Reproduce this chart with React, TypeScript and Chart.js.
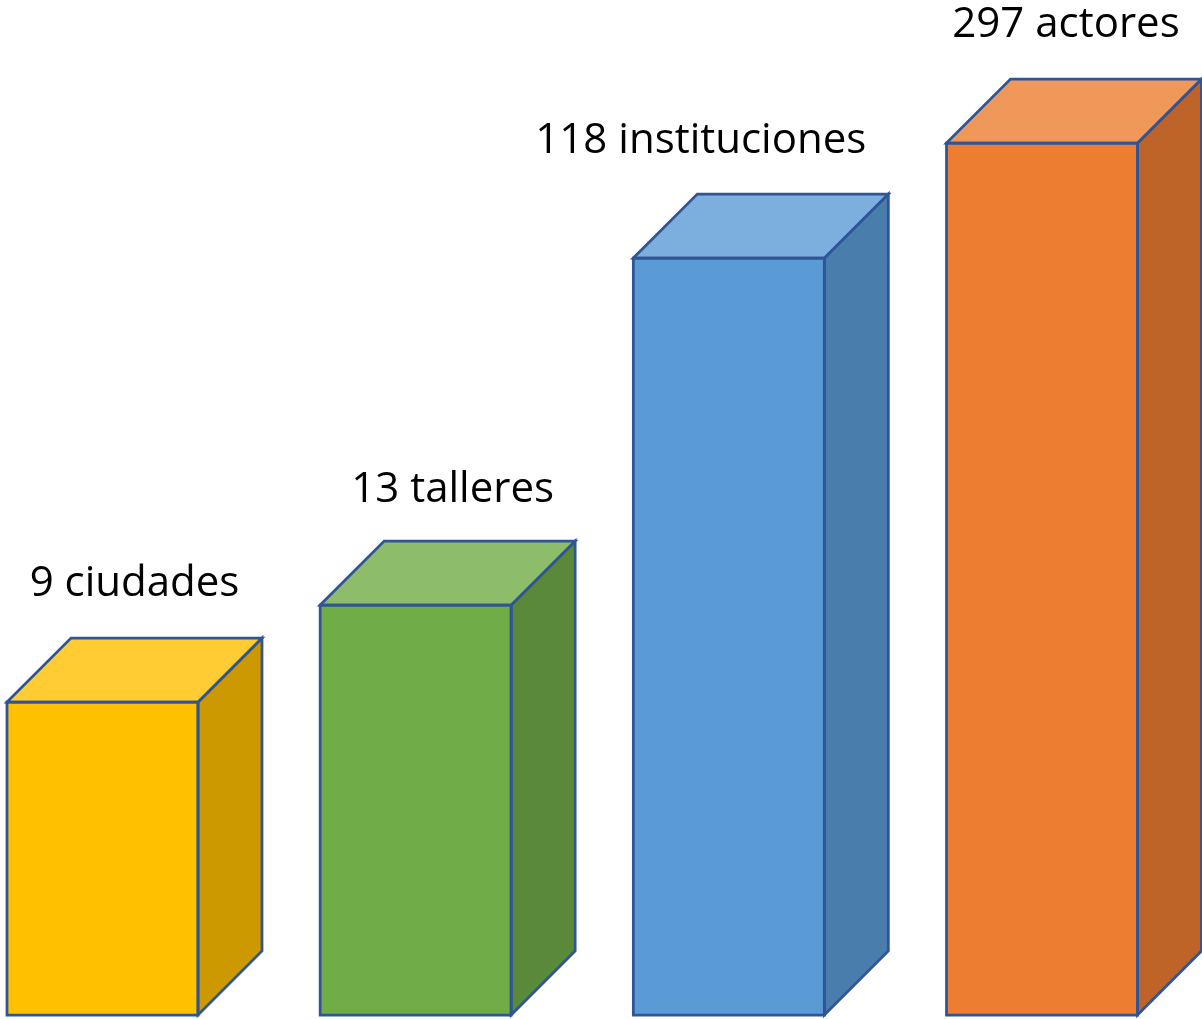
import React, { useEffect, useRef } from "react";
import { Chart, registerables } from "chart.js";

Chart.register(...registerables);

// Data
const categories = ["ciudades", "talleres", "instituciones", "actores"];
const counts = [9, 13, 118, 297];
// Visual bar heights (the picture's bars are not proportional to counts)
const barHeights = [313, 410, 757, 872];
const labelTexts = ["9 ciudades", "13 talleres", "118 instituciones", "297 actores"];

const frontColors = ["#FFC000", "#70AD47", "#5B9BD5", "#ED7D31"];
const topColors = ["#FFCD33", "#8DBD6B", "#7CAFDD", "#F0975A"];
const sideColors = ["#CC9A00", "#5A8A39", "#497DAB", "#BE6428"];
const edgeColor = "#2F5597";
const depth = 64;
const labelDx = [0, 5, -60, -8];
const labelDy = [-42, -39, -41, -42];

const cubePlugin = {
  id: "cube3d",
  afterDatasetsDraw(chart: any) {
    const ctx = chart.ctx;
    const meta = chart.getDatasetMeta(0);
    meta.data.forEach((bar: any, i: number) => {
      const { x, y, base, width } = bar.getProps(["x", "y", "base", "width"], true);
      const l = x - width / 2;
      const r = x + width / 2;
      const t = y;
      const b = base;
      ctx.save();
      ctx.lineWidth = 2.75;
      ctx.strokeStyle = edgeColor;
      ctx.lineJoin = "miter";
      // side
      ctx.beginPath();
      ctx.moveTo(r, t);
      ctx.lineTo(r + depth, t - depth);
      ctx.lineTo(r + depth, b - depth);
      ctx.lineTo(r, b);
      ctx.closePath();
      ctx.fillStyle = sideColors[i];
      ctx.fill();
      ctx.stroke();
      // top
      ctx.beginPath();
      ctx.moveTo(l, t);
      ctx.lineTo(l + depth, t - depth);
      ctx.lineTo(r + depth, t - depth);
      ctx.lineTo(r, t);
      ctx.closePath();
      ctx.fillStyle = topColors[i];
      ctx.fill();
      ctx.stroke();
      // front outline
      ctx.beginPath();
      ctx.rect(l, t, width, b - t);
      ctx.stroke();
      // label
      ctx.fillStyle = "#000000";
      ctx.font = "42px 'Open Sans'";
      ctx.textAlign = "center";
      ctx.textBaseline = "alphabetic";
      ctx.fillText(labelTexts[i], x + depth / 2 + labelDx[i], t - depth + labelDy[i]);
      ctx.restore();
    });
  },
};

export default function App() {
  const ref = useRef<HTMLCanvasElement>(null);
  useEffect(() => {
    document.body.style.margin = "0";
    const chart = new Chart(ref.current!, {
      type: "bar",
      data: {
        labels: categories,
        datasets: [
          {
            label: "valores",
            data: barHeights,
            backgroundColor: frontColors,
            borderWidth: 0,
            barThickness: 191,
            clip: false as any,
          },
        ],
      },
      options: {
        animation: false,
        responsive: false,
        devicePixelRatio: 1,
        layout: { padding: { left: 102.5, right: 160, top: 15, bottom: 4 } },
        plugins: { legend: { display: false }, tooltip: { enabled: false } },
        scales: {
          x: { display: false, offset: false },
          y: { display: false, min: 0, max: 1000 },
        },
      },
      plugins: [cubePlugin],
    });
    return () => chart.destroy();
  }, []);
  return (
    <div style={{ position: "absolute", left: 0, top: 0, width: 1202, height: 1019, background: "#fff" }}>
      <canvas ref={ref} width={1202} height={1019} data-counts={counts.join(",")} />
    </div>
  );
}
